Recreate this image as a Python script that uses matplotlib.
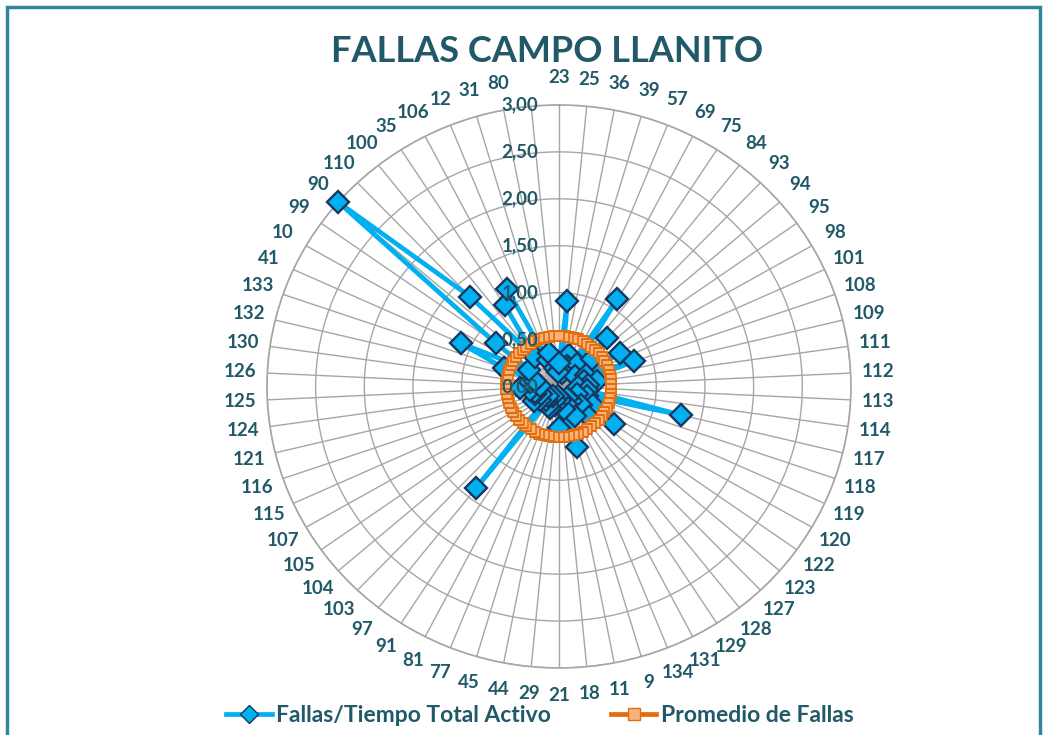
import numpy as np
import matplotlib
matplotlib.use("Agg")
from matplotlib import pyplot as plt
from matplotlib import transforms
from matplotlib.lines import Line2D

plt.rcParams['font.family'] = ['Lato', 'DejaVu Sans']

# categories clockwise from the top (one label is hidden behind "3,00")
categorias = ["23", "25", "36", "39", "57", "69", "75", "84", "93", "94", "95", "98",
              "101", "108", "109", "111", "112", "113", "114", "117", "118", "119", "120",
              "122", "123", "127", "128", "129", "131", "134", "9", "11", "18", "21", "29",
              "44", "45", "77", "81", "91", "97", "103", "104", "105", "107", "115", "116",
              "121", "124", "125", "126", "130", "132", "133", "41", "10", "99", "90", "110",
              "100", "35", "106", "12", "31", "80", ""]

fallas_tiempo = [0.25, 0.92, 0.15, 0.35, 0.23, 0.22, 1.11, 0.30, 0.71, 0.45, 0.20, 0.72,
                 0.30, 0.82, 0.26, 0.40, 0.30, 0.20, 0.29, 1.29, 0.30, 0.20, 0.40,
                 0.69, 0.30, 0.45, 0.20, 0.15, 0.35, 0.20, 0.67, 0.25, 0.15, 0.44, 0.10,
                 0.20, 0.15, 0.25, 0.24, 0.12, 1.38, 0.20, 0.15, 0.24, 0.30, 0.20, 0.26,
                 0.25, 0.30, 0.40, 0.20, 0.30, 0.25, 0.60, 1.11, 0.35, 0.80, 3.00, 1.32,
                 0.40, 1.03, 1.17, 0.30, 0.37, 0.20, 0.15]

promedio = [0.54] * len(categorias)

r_ticks = [0.0, 0.5, 1.0, 1.5, 2.0, 2.5, 3.0]

txt_color = '#215968'
grid_color = '#a6a6a6'

fig = plt.figure(figsize=(10.44, 7.35), dpi=100)

# border of the chart area
fig.add_artist(plt.Rectangle((0.007, -0.05), 0.989, 1.04, transform=fig.transFigure,
                             fill=False, edgecolor='#31859c', lw=2.5))

ax = fig.add_axes([0.2557, 0.0912, 0.5594, 0.766], projection='polar')
ax.set_aspect('auto')
ax.set_theta_zero_location('N')
ax.set_theta_direction(-1)

n = len(categorias)
ang = np.linspace(0, 2 * np.pi, n, endpoint=False)
ang_c = np.append(ang, ang[0])

ax.plot(ang_c, fallas_tiempo + fallas_tiempo[:1], color='#00b0f0', lw=3.4,
        marker='D', markersize=11.5, markerfacecolor='#00b0f0',
        markeredgecolor='#17375e', markeredgewidth=1.7, zorder=3, clip_on=False)
ax.plot(ang_c, promedio + promedio[:1], color='#e46c0a', lw=3,
        marker='s', markersize=6.5, markerfacecolor='#f8b27a',
        markeredgecolor='#e46c0a', markeredgewidth=1.2, zorder=4)

ax.set_ylim(0, 3.0)
ax.set_yticks(r_ticks[1:])
ax.set_yticklabels([])
ax.set_xticks(ang)
ax.set_xticklabels(categorias, fontweight='bold', color=txt_color, fontsize=13.5)
ax.tick_params(axis='x', pad=9)
ax.grid(True, color=grid_color, lw=1)
ax.spines['polar'].set_color(grid_color)
ax.spines['polar'].set_linewidth(1.2)

off = transforms.offset_copy(ax.transData, fig=fig, x=-15, y=0, units='points')
for v in r_ticks:
    ax.text(0, v, f"{v:.2f}".replace('.', ','), transform=off, ha='right', va='center',
            fontsize=13.5, fontweight='bold', color=txt_color, zorder=5)

fig.text(0.524, 0.93, 'FALLAS CAMPO LLANITO', ha='center', va='center',
         fontsize=26, fontweight='bold', color=txt_color)

handles = [Line2D([], [], color='#00b0f0', lw=3.4, marker='D', markersize=9,
                  markerfacecolor='#00b0f0', markeredgecolor='#17375e'),
           Line2D([], [], color='#e46c0a', lw=3.4, marker='s', markersize=8,
                  markerfacecolor='#f8b27a', markeredgecolor='#e46c0a')]
leg = fig.legend(handles, ['Fallas/Tiempo Total Activo', 'Promedio de Fallas'],
                 loc='center', bbox_to_anchor=(0.517, 0.026), ncol=2, frameon=False,
                 fontsize=16.5, handlelength=2.0, handletextpad=0.2, columnspacing=2.6,
                 borderpad=0.1)
for t in leg.get_texts():
    t.set_color(txt_color)
    t.set_fontweight('bold')

fig.savefig('out.png', dpi=100)
